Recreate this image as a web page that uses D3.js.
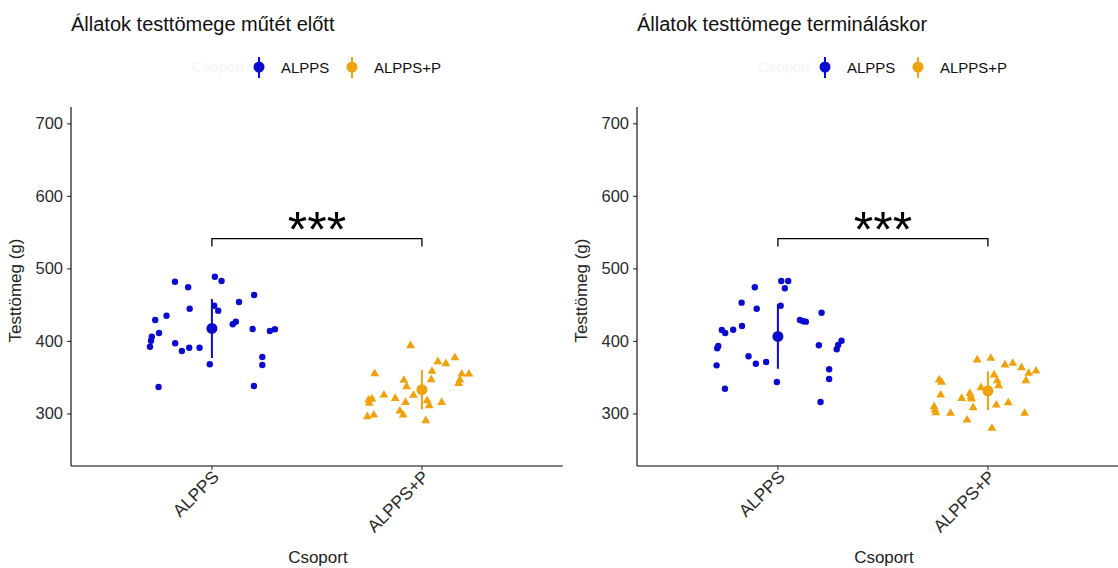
<!DOCTYPE html>
<html>
<head>
<meta charset="utf-8">
<script src="https://cdn.jsdelivr.net/npm/d3@7"></script>
<style>
  html, body { margin: 0; padding: 0; background: #ffffff; }
  svg { display: block; font-family: "Liberation Sans", Arial, sans-serif; }
</style>
</head>
<body>
<svg id="chart" width="1118" height="568"></svg>
<script>
// Groups, axis ticks and labels
const groups = ["ALPPS", "ALPPS+P"];
const yTicks = [300, 400, 500, 600, 700];
const panelTitles = ["Állatok testtömege műtét előtt", "Állatok testtömege termináláskor"];
const xTitle = "Csoport";
const yTitle = "Testtömeg (g)";
const legendTitle = "Csoport";
const sigLabel = "***";
const sigBracket = [530, 541]; // tick foot and bar height (g)

// Body weight before surgery (g), with horizontal jitter in group units
const preAlpps = [481.6, 473.9, 488.5, 482.6, 463.3, 453.6, 448.5, 441.6, 444.4, 434.7,
  428.8, 426.5, 422.9, 416.4, 413.6, 416.0, 410.9, 405.8, 400.3, 392.0,
  396.7, 386.1, 390.6, 390.6, 377.8, 366.8, 367.7, 336.4, 337.8];
const preAlppsJitter = [-0.176, -0.113, 0.014, 0.046, 0.201, 0.129, 0.011, 0.030, -0.106, -0.216,
  -0.270, 0.114, 0.099, 0.194, 0.276, 0.300, -0.252, -0.286, -0.290, -0.295,
  -0.175, -0.143, -0.108, -0.059, 0.240, 0.240, -0.010, -0.254, 0.200];
const prePlus = [393.4, 371.3, 368.5, 376.8, 354.8, 358.1, 354.3, 354.3, 345.7, 346.5,
  346.1, 341.5, 336.8, 325.4, 320.8, 325.0, 318.5, 319.9, 314.0, 315.3,
  317.5, 310.6, 315.3, 303.3, 297.8, 295.5, 297.8, 290.0];
const prePlusJitter = [-0.054, 0.076, 0.114, 0.157, -0.225, 0.048, 0.190, 0.224, -0.086, 0.044,
  0.181, 0.175, -0.073, -0.181, -0.127, -0.040, -0.254, -0.238, -0.251, -0.078,
  0.025, 0.035, 0.094, -0.105, -0.089, -0.260, -0.229, 0.018];

// Body weight at termination (g)
const termAlpps = [482.6, 482.6, 472.5, 473.9, 452.7, 444.4, 448.5, 438.9, 428.8, 427.0,
  426.5, 415.0, 410.9, 415.4, 420.5, 400.3, 394.3, 388.4, 393.9, 393.0,
  389.8, 378.8, 368.5, 370.9, 366.3, 360.8, 347.5, 343.3, 334.1, 315.7];
const termAlppsJitter = [0.016, 0.049, 0.033, -0.110, -0.173, -0.101, 0.013, 0.208, 0.105, 0.120,
  0.133, -0.267, -0.251, -0.213, -0.171, 0.303, 0.287, 0.280, 0.195, -0.284,
  -0.289, -0.140, -0.105, -0.056, -0.292, 0.244, 0.244, -0.005, -0.252, 0.203];
const termPlus = [373.7, 376.0, 366.8, 369.1, 363.0, 355.3, 358.5, 345.1, 353.0, 345.1,
  338.2, 346.1, 342.9, 335.5, 327.7, 323.0, 319.9, 325.4, 320.8, 307.9,
  311.6, 314.8, 309.3, 304.7, 301.0, 300.2, 290.9, 300.2, 279.5];
const termPlusJitter = [-0.051, 0.014, 0.081, 0.118, 0.160, 0.194, 0.229, 0.181, 0.029, 0.044,
  0.051, -0.232, -0.220, -0.033, -0.086, -0.081, -0.078, -0.225, -0.125, -0.070,
  0.040, 0.097, -0.256, -0.252, -0.248, -0.178, -0.099, 0.175, 0.019];

const colors = { "ALPPS": "#0b0bd0", "ALPPS+P": "#f0a20c" };
const svg = d3.select("#chart");

function drawPanel(cfg) {
  const g = svg.append("g");
  const x = d3.scaleLinear().domain([1 - 0.671, 2 + 0.671]).range([cfg.left, cfg.left + 2.342 * 210]);
  const y = d3.scaleLinear().domain([227.5, 722.5]).range([466, 107]);
  const xPos = name => x(groups.indexOf(name) + 1);

  // title
  g.append("text").attr("x", cfg.left).attr("y", 31)
    .attr("font-size", 20).attr("fill", "#111").text(cfg.title);

  // legend
  const lg = g.append("g");
  lg.append("text").attr("x", cfg.left + 121).attr("y", 72).attr("font-size", 15)
    .attr("fill", "#f5f5f5").text(legendTitle);
  groups.forEach((name, i) => {
    const kx = cfg.left + 188 + i * 93;
    lg.append("line").attr("x1", kx).attr("x2", kx).attr("y1", 57).attr("y2", 78)
      .attr("stroke", colors[name]).attr("stroke-width", 2);
    lg.append("circle").attr("cx", kx).attr("cy", 67).attr("r", 5.5).attr("fill", colors[name]);
    lg.append("text").attr("x", kx + 22).attr("y", 72.5).attr("font-size", 15)
      .attr("fill", "#111").text(name);
  });

  // y axis
  const yAxis = g.append("g").attr("transform", `translate(${cfg.left},0)`)
    .call(d3.axisLeft(y).tickValues(yTicks).tickSize(4).tickPadding(4).tickSizeOuter(0));
  yAxis.select(".domain").remove();
  yAxis.selectAll(".tick line").attr("stroke", "#333").attr("stroke-width", 1.1);
  yAxis.selectAll("text").attr("font-size", 16.5).attr("fill", "#2b2b2b")
    .attr("font-family", "Liberation Sans, Arial, sans-serif");
  g.append("line").attr("x1", cfg.left).attr("x2", cfg.left).attr("y1", y.range()[1]).attr("y2", y.range()[0])
    .attr("stroke", "#000").attr("stroke-width", 1.1);

  // x axis
  const xAxis = g.append("g").attr("transform", "translate(0,466)");
  xAxis.append("line").attr("x1", cfg.left).attr("x2", x.range()[1]).attr("y1", 0).attr("y2", 0)
    .attr("stroke", "#000").attr("stroke-width", 1.1);
  groups.forEach(name => {
    const tx = xPos(name);
    xAxis.append("line").attr("x1", tx).attr("x2", tx).attr("y1", 0).attr("y2", 4)
      .attr("stroke", "#333").attr("stroke-width", 1.1);
    xAxis.append("text")
      .attr("transform", `translate(${tx + 8},${12}) rotate(-45)`)
      .attr("text-anchor", "end").attr("font-size", 17.5).attr("fill", "#2b2b2b")
      .text(name);
  });

  // axis titles
  g.append("text").attr("x", (cfg.left + x.range()[1]) / 2 + 1).attr("y", 563)
    .attr("text-anchor", "middle").attr("font-size", 17).attr("fill", "#222").text(xTitle);
  g.append("text").attr("transform", `translate(${cfg.left - 50},${(107 + 466) / 2 + 4}) rotate(-90)`)
    .attr("text-anchor", "middle").attr("font-size", 17).attr("fill", "#222").text(yTitle);

  // significance bracket
  const b1 = xPos(groups[0]), b2 = xPos(groups[1]);
  g.append("path")
    .attr("d", `M${b1},${y(sigBracket[0])}V${y(sigBracket[1])}H${b2}V${y(sigBracket[0])}`)
    .attr("fill", "none").attr("stroke", "#000").attr("stroke-width", 1.3);
  g.append("text").attr("x", (b1 + b2) / 2).attr("y", y(sigBracket[1]) + 8)
    .attr("text-anchor", "middle").attr("font-size", 50).attr("fill", "#000").text(sigLabel);

  // raw points
  const circ = cfg.sets[0], tri = cfg.sets[1];
  g.append("g").selectAll("circle").data(circ.values.map((v, i) => ({ v, j: circ.jitter[i] })))
    .join("circle")
    .attr("cx", d => x(1 + d.j)).attr("cy", d => y(d.v)).attr("r", 3.2)
    .attr("fill", colors[groups[0]]);
  const triSym = d3.symbol(d3.symbolTriangle, 34);
  g.append("g").selectAll("path").data(tri.values.map((v, i) => ({ v, j: tri.jitter[i] })))
    .join("path")
    .attr("d", triSym)
    .attr("transform", d => `translate(${x(2 + d.j)},${y(d.v)})`)
    .attr("fill", colors[groups[1]]);

  // mean ± SD
  cfg.sets.forEach((s, i) => {
    const m = d3.mean(s.values), sd = d3.deviation(s.values);
    const cx = x(i + 1);
    g.append("line").attr("x1", cx).attr("x2", cx).attr("y1", y(m - sd)).attr("y2", y(m + sd))
      .attr("stroke", colors[groups[i]]).attr("stroke-width", 2);
    g.append("circle").attr("cx", cx).attr("cy", y(m)).attr("r", 5.5).attr("fill", colors[groups[i]]);
  });
}

drawPanel({
  left: 71, title: panelTitles[0],
  sets: [{ values: preAlpps, jitter: preAlppsJitter }, { values: prePlus, jitter: prePlusJitter }]
});
drawPanel({
  left: 637, title: panelTitles[1],
  sets: [{ values: termAlpps, jitter: termAlppsJitter }, { values: termPlus, jitter: termPlusJitter }]
});
</script>
</body>
</html>
